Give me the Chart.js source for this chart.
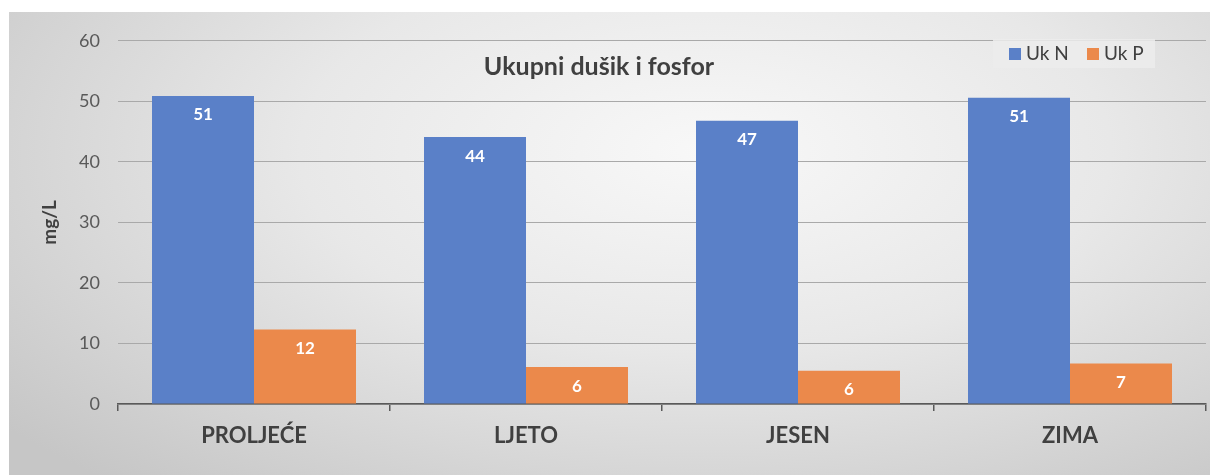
<!DOCTYPE html>
<html>
<head>
<meta charset="utf-8">
<script src="https://cdn.jsdelivr.net/npm/chart.js@4/dist/chart.umd.min.js"></script>
<style>
  html, body { margin: 0; padding: 0; background: #fff; }
  #marco {
    position: absolute; left: 9px; top: 12px; width: 1201px; height: 463px;
    background: radial-gradient(ellipse 75% 95% at 58% 30%, #f8f8f8 0%, #e8e8e8 45%, #c6c6c6 100%);
  }
</style>
</head>
<body>
<div id="marco"><canvas id="myChart" width="1201" height="463"></canvas></div>
<script>
const categorias = ['PROLJEĆE', 'LJETO', 'JESEN', 'ZIMA'];
const ukN = [50.9, 44.1, 46.8, 50.6];
const ukP = [12.3, 6.1, 5.5, 6.7];
const yTicks = [0, 10, 20, 30, 40, 50, 60];
const titulo = 'Ukupni dušik i fosfor';
const tituloEje = 'mg/L';

const fuente = 'Lato, "Noto Sans", sans-serif';

// etiquetas de valor dentro de las barras
const etiquetas = {
    id: 'etiquetas',
    afterDatasetsDraw: function (chart) {
        let ctx = chart.ctx;
        ctx.save();
        ctx.fillStyle = '#ffffff';
        ctx.font = 'bold 17px ' + fuente;
        ctx.textAlign = 'center';
        ctx.textBaseline = 'middle';
        chart.data.datasets.forEach(function (ds, i) {
            chart.getDatasetMeta(i).data.forEach(function (bar, j) {
                ctx.fillText(Math.round(ds.data[j]), bar.x, bar.y + 19);
            });
        });
        ctx.restore();
    }
};

// titulo y leyenda dibujados sobre el area del grafico
const tituloYLeyenda = {
    id: 'tituloYLeyenda',
    afterDraw: function (chart) {
        let ctx = chart.ctx;
        ctx.save();
        ctx.fillStyle = '#404040';
        ctx.font = 'bold 25px ' + fuente;
        ctx.textAlign = 'center';
        ctx.textBaseline = 'middle';
        ctx.fillText(titulo, 590, 55);

        // caja de leyenda
        ctx.fillStyle = 'rgba(236,236,236,0.85)';
        ctx.fillRect(984, 27, 162, 29);
        ctx.font = '19px ' + fuente;
        ctx.textAlign = 'left';
        let x = 1000;
        chart.data.datasets.forEach(function (ds) {
            ctx.fillStyle = ds.backgroundColor;
            ctx.fillRect(x, 36, 12, 12);
            ctx.fillStyle = '#404040';
            ctx.fillText(ds.label, x + 17, 42);
            x += 78;
        });
        ctx.restore();
    }
};

const ctx = document.getElementById('myChart');
const myChart = new Chart(ctx, {
    type: 'bar',
    data: {
        labels: categorias,
        datasets: [{
            label: 'Uk N',
            data: ukN,
            backgroundColor: '#5a80c8'
        }, {
            label: 'Uk P',
            data: ukP,
            backgroundColor: '#eb894b'
        }]
    },
    options: {
        responsive: false,
        animation: false,
        layout: { padding: { top: 16, right: 4, left: 0, bottom: 0 } },
        datasets: {
            bar: { categoryPercentage: 0.75, barPercentage: 1.0 }
        },
        plugins: {
            legend: { display: false },
            title: { display: false },
            tooltip: { enabled: false }
        },
        scales: {
            x: {
                grid: {
                    offset: true,
                    drawOnChartArea: false,
                    drawTicks: true,
                    tickLength: 7,
                    color: '#595959',
                    lineWidth: 1.5
                },
                border: { display: true, color: '#595959', width: 1.5 },
                ticks: {
                    color: '#404040',
                    font: { family: fuente, size: 22, weight: 'bold' },
                    padding: 12
                },
                afterFit: function (scale) { scale.height = 71; }
            },
            y: {
                min: 0,
                max: 60,
                afterBuildTicks: function (scale) {
                    scale.ticks = yTicks.map(function (v) { return { value: v }; });
                },
                grid: { color: '#a9a9a9', drawTicks: false, lineWidth: 1 },
                border: { display: false },
                ticks: {
                    color: '#595959',
                    font: { family: fuente, size: 18 },
                    padding: 18
                },
                title: {
                    display: true,
                    text: tituloEje,
                    color: '#404040',
                    font: { family: fuente, size: 19, weight: 'bold' },
                    padding: { top: 29, bottom: 0 }
                },
                afterFit: function (scale) { scale.width = 109; }
            }
        }
    },
    plugins: [etiquetas, tituloYLeyenda]
}); //fin del chart
</script>
</body>
</html>
